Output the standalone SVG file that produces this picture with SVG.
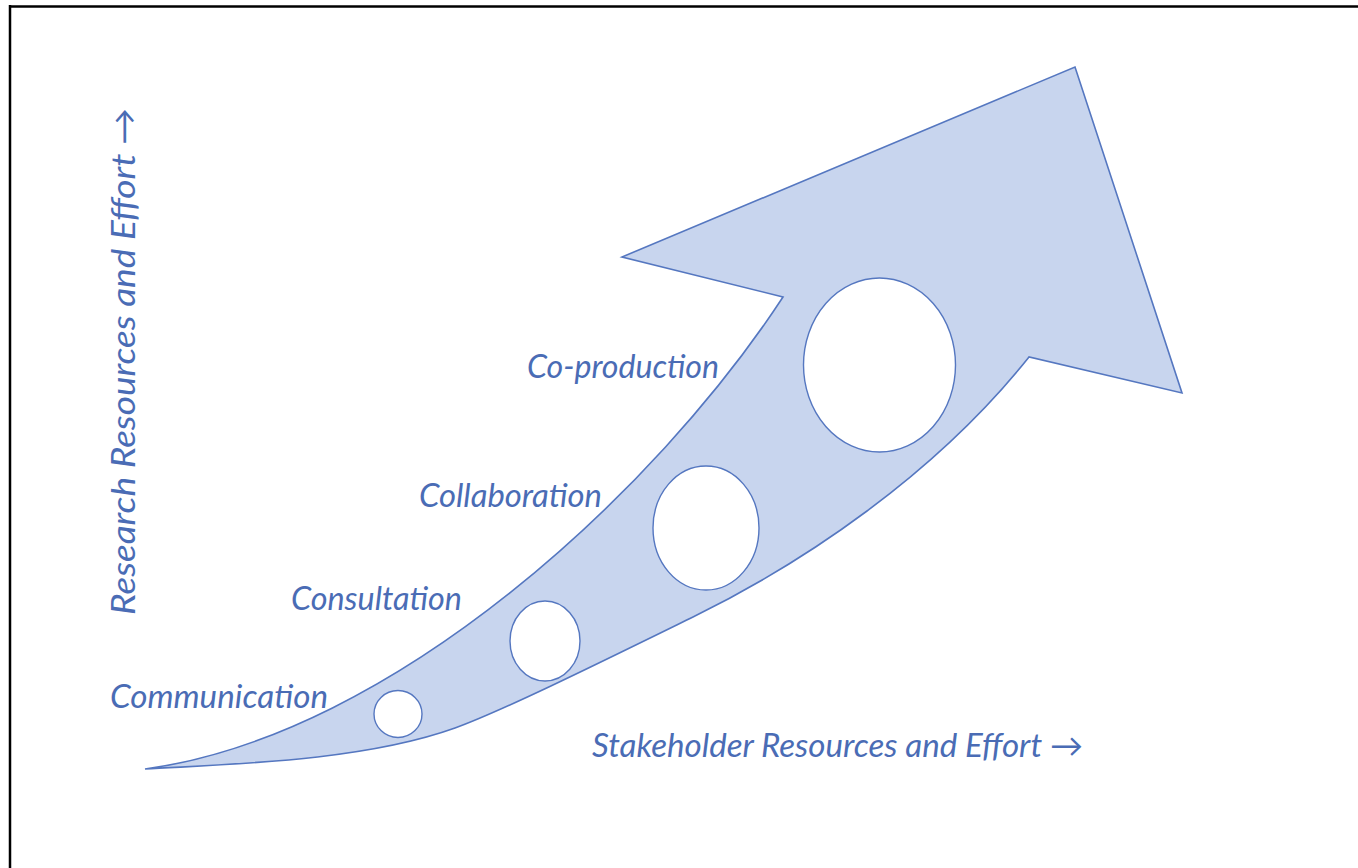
<svg xmlns="http://www.w3.org/2000/svg" width="1358" height="868" viewBox="0 0 1358 868">
<style>
.lbl{font-family:Lato,"Open Sans","Liberation Sans",sans-serif;font-style:italic;font-size:32px;fill:#4a6cb5}
.shape{fill:#c8d5ee;stroke:#5577c0;stroke-width:1.6;stroke-linejoin:miter}
.hole{fill:#ffffff;stroke:#5577c0;stroke-width:1.4}
</style>
<rect x="0" y="0" width="1358" height="868" fill="#ffffff"/>
<g id="frame" stroke="#000" stroke-width="2.5" fill="none">
<line x1="9" y1="6.5" x2="1358" y2="6.5"/>
<line x1="10" y1="5" x2="10" y2="868"/>
</g>
<g id="arrow">
<path class="shape" d="M145,769 C395,735 657,489.5 783,297 L622,257 L1075,67 L1182,393 L1029,357 C935,475 803,563 693,617 C603.2,661 502,711 455,728 C361,761.8 224.6,764.2 145,769 Z"/>
</g>
<g id="circle-communication"><ellipse class="hole" cx="398" cy="714" rx="24" ry="23.5"/></g>
<g id="circle-consultation"><ellipse class="hole" cx="545" cy="641" rx="35" ry="40"/></g>
<g id="circle-collaboration"><ellipse class="hole" cx="706" cy="528" rx="53" ry="62"/></g>
<g id="circle-coproduction"><ellipse class="hole" cx="879.5" cy="365" rx="76" ry="87"/></g>
<g id="labels">
<text class="lbl" x="110" y="708" textLength="218" lengthAdjust="spacingAndGlyphs">Communication</text>
<text class="lbl" x="291" y="610" textLength="171" lengthAdjust="spacingAndGlyphs">Consultation</text>
<text class="lbl" x="419" y="507" textLength="183" lengthAdjust="spacingAndGlyphs">Collaboration</text>
<text class="lbl" x="527" y="378" textLength="192" lengthAdjust="spacingAndGlyphs">Co-production</text>
<text class="lbl" x="592" y="757" textLength="491" lengthAdjust="spacingAndGlyphs">Stakeholder Resources and Effort →</text>
<text class="lbl" transform="translate(135,615) rotate(-90)" x="0" y="0" textLength="507" lengthAdjust="spacingAndGlyphs">Research Resources and Effort →</text>
</g>
</svg>
